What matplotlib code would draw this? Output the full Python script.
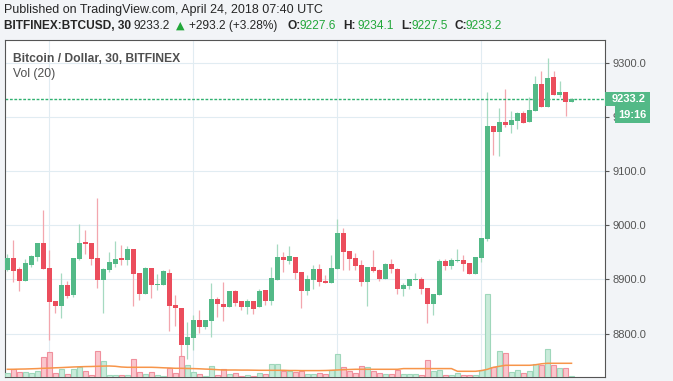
from matplotlib import pyplot as plt
from matplotlib.patches import Rectangle
import numpy as np

# 30 min candles, BITFINEX:BTCUSD
opens = [8917, 8939, 8919, 8897, 8927, 8942, 8967, 8921, 8860, 8851,
         8889, 8871, 8937, 8969, 8967, 8939, 8899, 8917, 8929, 8939,
         8936, 8956, 8912, 8873, 8921, 8889, 8889, 8912, 8852, 8848,
         8778, 8791, 8825, 8812, 8823, 8863, 8854, 8849, 8878, 8860,
         8849, 8860, 8849, 8880, 8860, 8899, 8941, 8934, 8941, 8913,
         8878, 8899, 8919, 8897, 8893, 8919, 8985, 8952, 8939, 8926,
         8895, 8923, 8917, 8900, 8928, 8919, 8882, 8887, 8899, 8900,
         8884, 8854, 8871, 8934, 8924, 8934, 8936, 8930, 8910, 8939,
         8974, 9183, 9172, 9190, 9185, 9192, 9207, 9190, 9211, 9261,
         9218, 9273, 9240, 9246, 9227.6]
highs = [8947, 8972, 8922, 8937, 8945, 8967, 9028, 8954, 8860, 8912,
         8897, 8939, 9002, 8991, 8967, 9050, 8921, 8950, 8971, 8963,
         8961, 8956, 8912, 8923, 8921, 8910, 8917, 8919, 8871, 8848,
         8821, 8834, 8843, 8825, 8893, 8868, 8895, 8878, 8880, 8860,
         8863, 8860, 8882, 8880, 8923, 8965, 8950, 8961, 8941, 8913,
         8908, 8927, 8928, 8908, 8945, 9011, 8995, 8952, 8948, 8936,
         8923, 8954, 8919, 8930, 8937, 8921, 8893, 8900, 8912, 8904,
         8884, 8873, 8937, 8937, 8939, 8956, 8945, 8930, 8941, 8976,
         9245, 9183, 9216, 9251, 9211, 9209, 9211, 9237, 9275, 9285,
         9309, 9285, 9266, 9246, 9234.1]
lows = [8916, 8896, 8879, 8897, 8923, 8934, 8920, 8788, 8838, 8829,
        8865, 8868, 8936, 8947, 8927, 8884, 8838, 8913, 8923, 8927,
        8927, 8851, 8862, 8873, 8866, 8880, 8889, 8804, 8814, 8753,
        8753, 8769, 8801, 8809, 8794, 8830, 8823, 8849, 8851, 8843,
        8836, 8837, 8849, 8852, 8852, 8899, 8913, 8928, 8900, 8847,
        8871, 8882, 8887, 8893, 8893, 8919, 8917, 8917, 8917, 8887,
        8851, 8913, 8897, 8900, 8912, 8873, 8870, 8882, 8899, 8873,
        8820, 8834, 8871, 8917, 8919, 8932, 8915, 8910, 8910, 8932,
        8970, 9129, 9128, 9181, 9170, 9177, 9189, 9190, 9210, 9218,
        9218, 9240, 9236, 9201, 9227.5]
closes = [8939, 8916, 8897, 8930, 8943, 8967, 8920, 8858, 8851, 8889,
          8869, 8939, 8967, 8966, 8937, 8899, 8919, 8932, 8937, 8936,
          8956, 8910, 8873, 8921, 8889, 8891, 8915, 8851, 8847, 8778,
          8793, 8825, 8812, 8825, 8863, 8854, 8849, 8878, 8856, 8849,
          8860, 8845, 8878, 8860, 8902, 8941, 8936, 8943, 8912, 8878,
          8900, 8919, 8895, 8893, 8921, 8985, 8950, 8937, 8924, 8895,
          8923, 8915, 8900, 8928, 8919, 8882, 8889, 8900, 8900, 8882,
          8854, 8873, 8934, 8924, 8936, 8936, 8928, 8910, 8941, 8976,
          9183, 9172, 9190, 9185, 9194, 9207, 9189, 9212, 9261, 9218,
          9272, 9240, 9246, 9227, 9233.2]
volumes = [4, 8, 5, 5, 4, 6, 20, 25, 4, 8, 3, 8, 10, 6, 2, 26, 16, 2, 2, 2,
           2, 18, 5, 3, 5, 2, 1, 9, 4, 21, 12, 5, 3, 1, 11, 2, 8, 3, 4, 1,
           2, 1, 4, 3, 13, 13, 6, 6, 5, 6, 3, 3, 4, 3, 7, 23, 10, 6, 4, 11,
           10, 6, 4, 3, 3, 7, 3, 3, 3, 2, 17, 6, 7, 2, 2, 4, 2, 2, 2, 7,
           83, 10, 26, 24, 5, 7, 4, 6, 13, 12, 28, 12, 9, 9, 1]
vol_ma20 = [8.0, 8.0, 8.2, 8.3, 8.5, 8.7, 9.0, 9.2, 9.5, 9.7,
            10.0, 10.3, 10.5, 10.7, 10.8, 11.0, 11.2, 11.3, 11.0, 10.3,
            10.0, 10.0, 10.0, 10.0, 10.0, 9.8, 9.5, 9.3, 9.0, 9.0,
            8.8, 8.7, 8.5, 8.2, 8.0, 7.6, 7.3, 7.3, 7.3, 7.2,
            7.2, 7.1, 7.0, 7.0, 7.0, 7.0, 7.0, 6.8, 6.8, 6.7,
            6.7, 6.7, 6.7, 6.8, 7.0, 7.3, 7.6, 7.8, 8.0, 8.0,
            8.0, 8.0, 8.0, 8.0, 8.0, 8.0, 8.7, 8.7, 8.7, 8.7,
            8.7, 8.7, 8.7, 8.7, 8.7, 6.0, 6.0, 6.0, 6.0, 6.7,
            8.0, 10.0, 11.0, 12.0, 12.0, 12.0, 12.0, 12.0, 12.5, 13.5,
            14.0, 14.0, 14.0, 14.0, 14.0]
price_ticks = [8800, 8900, 9000, 9100, 9200, 9300]
time_grid = [7, 31, 55, 79]   # 12h vertical grid
last_price = 9233.2
countdown = '19:16'
change_txt = '+293.2 (+3.28%)'
published = 'Published on TradingView.com, April 24, 2018 07:40 UTC'
symbol_txt = 'BITFINEX:BTCUSD, 30'
legend_txt = 'Bitcoin / Dollar, 30, BITFINEX'
vol_txt = 'Vol (20)'

UP, DN = '#53b987', '#eb4d5c'
W, H = 673, 381
plt.rcParams['font.family'] = ['Liberation Sans', 'DejaVu Sans']

fig = plt.figure(figsize=(W/100, H/100), dpi=100, facecolor='#f2f4f7')
def fx(x): return x/W
def fy(y): return 1-y/H

ax = fig.add_axes((fx(4.5), fy(377.3), (605.3-4.5)/W, (377.3-40)/H))
ax.set_facecolor('white')
n = len(closes)
x = np.arange(n)
o = np.array(opens); c = np.array(closes)
hi = np.array(highs); lo = np.array(lows)
up = c >= o
ax.set_xlim(-0.47, 99.63)
ax.set_ylim(8719.3, 9341.9)

# volume pane (overlay) - made first so the price axis keeps its right ticks
axv = ax.twinx()
axv.set_ylim(0, 337)
axv.bar(x, volumes, width=0.78, color=np.where(up, '#c9ebda', '#fac6cd'),
        edgecolor=np.where(up, '#9fd7bb', '#f0909d'), lw=0.8)
axv.plot(x, vol_ma20, color='#f7954a', lw=1.1)
axv.set_yticks([])
for s in axv.spines.values():
  s.set_visible(False)

ax.set_xticks(time_grid)
ax.set_yticks(price_ticks)
ax.grid(True, color='#e1ecf2', lw=0.8, zorder=0)
ax.set_axisbelow(True)
ax.tick_params(axis='x', length=0, labelbottom=False)
ax.yaxis.tick_right()
ax.tick_params(axis='y', which='both', left=False, labelleft=False, right=True, labelright=True,
               length=3, width=0.8, color='#555555', pad=2.5,
               labelsize=8, labelcolor='#555555')
ax.yaxis.set_major_formatter(plt.FuncFormatter(lambda v, p: f'{v:.1f}'))
for s in ax.spines.values():
  s.set_color('#555555'); s.set_linewidth(0.8)

# wicks + bodies
ax.vlines(x, lo, hi, colors=np.where(up, '#a6dac1', '#f3a6ae'), lw=0.9, zorder=2)
body_lo = np.minimum(o, c)
body_h = np.maximum(np.abs(c-o), 1.6)
ax.bar(x, body_h, bottom=body_lo, width=0.78, color=np.where(up, UP, DN), lw=0, zorder=3)

# last price line
ax.axhline(last_price, color='#2fb070', lw=1.0, ls=(0, (2, 1.2)), zorder=2)

# price / countdown boxes on the axis
yl = H - ax.transData.transform((0, last_price))[1]
fig.add_artist(Rectangle((fx(605.3), fy(yl+7.2)), 44.7/W, 14.4/H, transform=fig.transFigure,
                         fc=UP, ec='none', zorder=5))
fig.text(fx(611.5), fy(yl+0.3), f'{last_price:.1f}', color='white', fontsize=8,
         fontweight='bold', va='center', ha='left', zorder=6)
fig.add_artist(Rectangle((fx(615), fy(yl+24.5)), 35/W, 17.3/H, transform=fig.transFigure,
                         fc=UP, ec='none', zorder=5))
fig.text(fx(618), fy(yl+16), countdown, color='white', fontsize=8,
         fontweight='bold', va='center', ha='left', zorder=6)

# legend inside the pane
fig.text(fx(13), fy(62), legend_txt, color='#4f4f4f', fontsize=8.7, fontweight='bold',
         va='baseline')
fig.text(fx(13), fy(77.5), vol_txt, color='#4f4f4f', fontsize=8.7, va='baseline')

# header
dark = '#262626'; grn = '#22a73a'
fig.text(fx(4), fy(12.5), published, color=dark, fontsize=9.0, va='baseline')
segs = [(symbol_txt, 4, 'bold', dark),
        (f'{closes[-1]:.1f}', 134, 'normal', dark),
        ('\u25B2', 176, 'normal', grn),
        (change_txt, 189, 'normal', dark),
        ('O:', 287, 'bold', dark), (f'{opens[-1]:.1f}', 300, 'normal', grn),
        ('H:', 343, 'bold', dark), (f'{highs[-1]:.1f}', 357, 'normal', grn),
        ('L:', 401, 'bold', dark), (f'{lows[-1]:.1f}', 411, 'normal', grn),
        ('C:', 454, 'bold', dark), (f'{closes[-1]:.1f}', 466, 'normal', grn)]
for t, xp, wt, col in segs:
  fam = ['DejaVu Sans'] if t == '\u25B2' else None
  fig.text(fx(xp), fy(29), t, color=col, fontsize=8.6 if fam is None else 8,
           fontweight=wt, va='baseline', family=fam)

fig.savefig('out.png', dpi=100, facecolor=fig.get_facecolor())
